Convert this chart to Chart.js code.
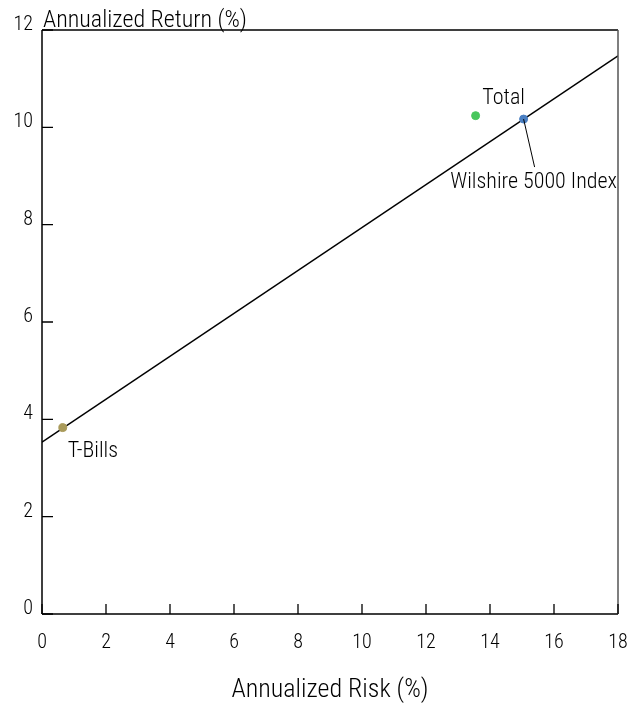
<!DOCTYPE html>
<html>
<head>
<meta charset="utf-8">
<script src="https://cdn.jsdelivr.net/npm/chart.js@4/dist/chart.umd.min.js"></script>
<style>
  html, body { margin: 0; padding: 0; background: #fff; }
  #wrap { width: 639px; height: 704px; }
</style>
</head>
<body>
<div id="wrap"><canvas id="c" width="639" height="704"></canvas></div>
<script>
// ---- data ----
const assetNames = ['T-Bills', 'Total', 'Wilshire 5000 Index'];
const riskValues = [0.65, 13.55, 15.05];
const returnValues = [3.83, 10.24, 10.17];
const pointColors = ['#a99a5a', '#48c65c', '#4a7fc2'];
const marketLineRisk = [0, 18];
const marketLineReturn = [3.53, 11.47];
const xTickValues = [0, 2, 4, 6, 8, 10, 12, 14, 16, 18];
const yTickValues = [0, 2, 4, 6, 8, 10, 12];
const xAxisTitle = 'Annualized Risk (%)';
const yAxisTitle = 'Annualized Return (%)';

const FONT = "'Roboto Condensed', 'DejaVu Sans Condensed', sans-serif";
const WEIGHT = '300';
const TEXT_COLOR = '#000';

// label placement (pixel offsets from the point)
const labelStyle = {
  'T-Bills': { dx: 5, dy: 24, align: 'left' },
  'Total': { dx: 28, dy: -17, align: 'center' },
  'Wilshire 5000 Index': { dx: 10, dy: 63, align: 'center', leader: { dx: 11, dy: 48 } }
};

const decorPlugin = {
  id: 'decor',
  afterDraw(chart) {
    const { ctx, chartArea: a, scales: { x, y } } = chart;
    ctx.save();
    // frame
    ctx.strokeStyle = '#000';
    ctx.lineWidth = 1.5;
    ctx.beginPath();
    ctx.moveTo(a.left, a.top); ctx.lineTo(a.right, a.top);
    ctx.moveTo(a.left, a.top); ctx.lineTo(a.left, a.bottom);
    ctx.moveTo(a.left, a.bottom); ctx.lineTo(a.right, a.bottom);
    ctx.stroke();
    ctx.strokeStyle = '#555';
    ctx.beginPath();
    ctx.moveTo(a.right, a.top); ctx.lineTo(a.right, a.bottom);
    ctx.stroke();
    // inward ticks
    ctx.strokeStyle = '#000';
    ctx.lineWidth = 1.3;
    ctx.beginPath();
    xTickValues.forEach(v => {
      const px = x.getPixelForValue(v);
      ctx.moveTo(px, a.bottom); ctx.lineTo(px, a.bottom - 10);
    });
    yTickValues.forEach(v => {
      const py = y.getPixelForValue(v);
      ctx.moveTo(a.left, py); ctx.lineTo(a.left + 11, py);
    });
    ctx.stroke();
    // y axis title
    ctx.fillStyle = TEXT_COLOR;
    ctx.font = WEIGHT + ' 24px ' + FONT;
    ctx.textAlign = 'left';
    ctx.textBaseline = 'alphabetic';
    ctx.fillText(yAxisTitle, a.left + 1, a.top - 3);
    // point labels
    ctx.font = WEIGHT + ' 22px ' + FONT;
    ctx.textBaseline = 'middle';
    assetNames.forEach((name, i) => {
      const px = x.getPixelForValue(riskValues[i]);
      const py = y.getPixelForValue(returnValues[i]);
      const s = labelStyle[name];
      if (s.leader) {
        ctx.strokeStyle = '#000';
        ctx.lineWidth = 1;
        ctx.beginPath();
        ctx.moveTo(px, py); ctx.lineTo(px + s.leader.dx, py + s.leader.dy);
        ctx.stroke();
      }
      ctx.textAlign = s.align;
      ctx.fillText(name, px + s.dx, py + s.dy);
    });
    ctx.restore();
  }
};

new Chart(document.getElementById('c'), {
  type: 'scatter',
  data: {
    datasets: [
      {
        type: 'line',
        data: marketLineRisk.map((r, i) => ({ x: r, y: marketLineReturn[i] })),
        borderColor: '#000',
        borderWidth: 1.5,
        pointRadius: 0,
        fill: false,
        order: 2
      },
      {
        data: riskValues.map((r, i) => ({ x: r, y: returnValues[i] })),
        backgroundColor: pointColors,
        borderColor: pointColors,
        pointRadius: 4,
        order: 1
      }
    ]
  },
  options: {
    responsive: false,
    animation: false,
    layout: { padding: { top: 30, right: 21, left: 0, bottom: 0 } },
    plugins: { legend: { display: false }, tooltip: { enabled: false }, title: { display: false } },
    scales: {
      x: {
        type: 'linear', min: 0, max: 18,
        afterBuildTicks: s => { s.ticks = xTickValues.map(v => ({ value: v })); },
        afterFit: s => { s.height = 90; s.paddingLeft = 0; s.paddingRight = 0; },
        grid: { display: false, drawTicks: false },
        border: { display: false },
        ticks: { color: TEXT_COLOR, font: { family: FONT, size: 20, weight: WEIGHT }, padding: 17, maxRotation: 0 },
        title: { display: true, text: xAxisTitle, color: TEXT_COLOR, font: { family: FONT, size: 26, weight: WEIGHT }, padding: { bottom: -2 } }
      },
      y: {
        type: 'linear', min: 0, max: 12,
        afterBuildTicks: s => { s.ticks = yTickValues.map(v => ({ value: v })); },
        afterFit: s => { s.width = 42; s.paddingTop = 0; s.paddingBottom = 0; },
        grid: { display: false, drawTicks: false },
        border: { display: false },
        ticks: { color: TEXT_COLOR, font: { family: FONT, size: 20, weight: WEIGHT }, padding: 9, labelOffset: -5 }
      }
    }
  },
  plugins: [decorPlugin]
});
</script>
</body>
</html>
